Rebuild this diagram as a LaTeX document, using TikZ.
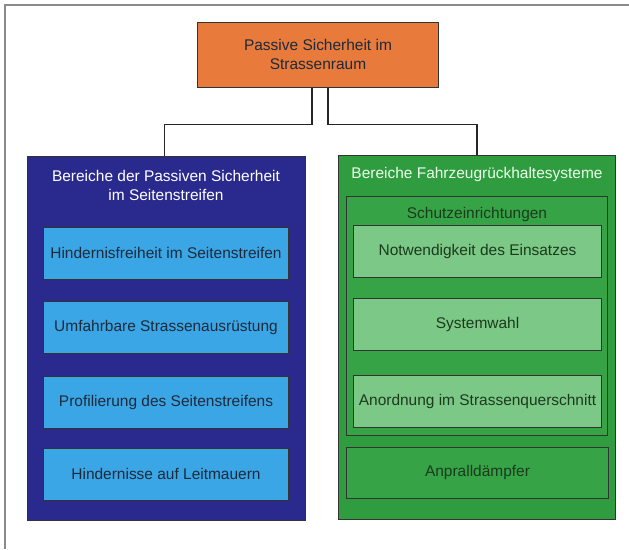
\documentclass[tikz,border=0pt]{standalone}
\usepackage{fontspec}
\setmainfont{Liberation Sans}
\usepackage{tikz}
\usetikzlibrary{positioning, calc}
\definecolor{mOrange}{HTML}{E87A3C}
\definecolor{mNavy}{HTML}{2A2A8E}
\definecolor{mSky}{HTML}{3AA6E6}
\definecolor{mGreen}{HTML}{2F9C3F}
\definecolor{mMid}{HTML}{36A446}
\definecolor{mPale}{HTML}{7CC886}
\definecolor{mInk}{HTML}{1E2A3A}
\definecolor{mLeaf}{HTML}{1C3A1E}
\definecolor{mFrame}{HTML}{8A8A8A}

\begin{document}
\begin{tikzpicture}[
  x=0.025cm, y=-0.025cm,
  font=\fontsize{11}{13.5}\selectfont,
  box/.style={draw=black!80, line width=0.7pt, align=center, inner sep=0pt},
  topbox/.style={box, fill=mOrange, text=mInk, minimum width=6cm, minimum height=1.625cm},
  area/.style={box, minimum height=9.1cm},
  entry/.style={box, fill=mSky, text=mInk, minimum width=6.1cm, minimum height=1.3cm},
  leaf/.style={box, fill=mPale, text=mLeaf, minimum width=6.175cm, minimum height=1.3cm},
  link/.style={draw=black!85, line width=0.8pt},
]
  \useasboundingbox (0,0) rectangle (629,549);
  \draw[mFrame, line width=1.4pt] (5,549) -- (5,5) -- (629,5);

  % top
  \node[topbox] (top) at (318,54.5) {Passive Sicherheit im\\Strassenraum};

  % left column
  \node[area, fill=mNavy, minimum width=6.925cm] (side) at (166.5,338.5) {};
  \node[text=white, align=center] (sidetitle) at (166,185.5)
    {Bereiche der Passiven Sicherheit\\im Seitenstreifen};
  \node[entry] (e1) at (166,253) {Hindernisfreiheit im Seitenstreifen};
  \node[entry] (e2) at (166,327) {Umfahrbare Strassenausrüstung};
  \node[entry] (e3) at (166,402) {Profilierung des Seitenstreifens};
  \node[entry] (e4) at (166,474) {Hindernisse auf Leitmauern};

  % right column
  \node[area, fill=mGreen, minimum width=6.9cm] (rest) at (477,337.5) {};
  \node[text=green!8] (resttitle) at (477,174) {Bereiche Fahrzeugrückhaltesysteme};
  \node[box, fill=mMid, minimum width=6.5cm, minimum height=5.95cm] (guard) at (477,316) {};
  \node[text=mLeaf] (guardtitle) at (477,214) {Schutzeinrichtungen};
  \node[leaf] (g1) at (477.5,251) {Notwendigkeit des Einsatzes};
  \node[leaf] (g2) at (477.5,324) {Systemwahl};
  \node[leaf] (g3) at (477.5,401.5) {Anordnung im Strassenquerschnitt};
  \node[box, fill=mMid, text=mLeaf, minimum width=6.525cm, minimum height=1.275cm] (damp) at (477.5,472.5) {Anpralldämpfer};

  % connectors
  \draw[link] ([xshift=-0.15cm]top.south) -- ++(0,37) -| ([xshift=-0.06cm]side.north);
  \draw[link] ([xshift=0.25cm]top.south) -- ++(0,37) -| (rest.north);
\end{tikzpicture}
\end{document}
